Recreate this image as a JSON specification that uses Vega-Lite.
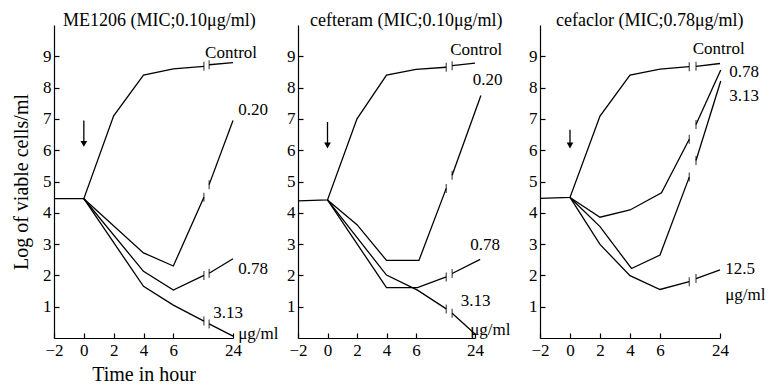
{
  "$schema": "https://vega.github.io/schema/vega-lite/v6.json",
  "padding": {"left": 11, "top": 12, "right": 5, "bottom": 5},
  "background": "white",
  "bounds": "flush",
  "spacing": 65,
  "datasets": {
    "lines": [
      {"drug": "ME1206", "series": "Control", "seg": 1, "t": -2, "v": 4.45},
      {"drug": "ME1206", "series": "Control", "seg": 1, "t": 0, "v": 4.45},
      {"drug": "ME1206", "series": "Control", "seg": 1, "t": 2, "v": 7.1},
      {"drug": "ME1206", "series": "Control", "seg": 1, "t": 4, "v": 8.4},
      {"drug": "ME1206", "series": "Control", "seg": 1, "t": 6, "v": 8.6},
      {"drug": "ME1206", "series": "Control", "seg": 1, "t": 8.05, "v": 8.68},
      {"drug": "ME1206", "series": "Control", "seg": 2, "t": 8.4, "v": 8.73},
      {"drug": "ME1206", "series": "Control", "seg": 2, "t": 10, "v": 8.8},
      {"drug": "ME1206", "series": "0.20", "seg": 1, "t": 0, "v": 4.45},
      {"drug": "ME1206", "series": "0.20", "seg": 1, "t": 4, "v": 2.72},
      {"drug": "ME1206", "series": "0.20", "seg": 1, "t": 6, "v": 2.3},
      {"drug": "ME1206", "series": "0.20", "seg": 1, "t": 8.05, "v": 4.5},
      {"drug": "ME1206", "series": "0.20", "seg": 2, "t": 8.4, "v": 4.9},
      {"drug": "ME1206", "series": "0.20", "seg": 2, "t": 10, "v": 6.95},
      {"drug": "ME1206", "series": "0.78", "seg": 1, "t": 0, "v": 4.45},
      {"drug": "ME1206", "series": "0.78", "seg": 1, "t": 4, "v": 2.13},
      {"drug": "ME1206", "series": "0.78", "seg": 1, "t": 6, "v": 1.53},
      {"drug": "ME1206", "series": "0.78", "seg": 1, "t": 8.05, "v": 2.0},
      {"drug": "ME1206", "series": "0.78", "seg": 2, "t": 8.4, "v": 2.07},
      {"drug": "ME1206", "series": "0.78", "seg": 2, "t": 10, "v": 2.53},
      {"drug": "ME1206", "series": "3.13", "seg": 1, "t": 0, "v": 4.45},
      {"drug": "ME1206", "series": "3.13", "seg": 1, "t": 4, "v": 1.65},
      {"drug": "ME1206", "series": "3.13", "seg": 1, "t": 6, "v": 1.05},
      {"drug": "ME1206", "series": "3.13", "seg": 1, "t": 8.05, "v": 0.54},
      {"drug": "ME1206", "series": "3.13", "seg": 2, "t": 8.4, "v": 0.45},
      {"drug": "ME1206", "series": "3.13", "seg": 2, "t": 10, "v": 0.06},

      {"drug": "cefteram", "series": "Control", "seg": 1, "t": -2, "v": 4.38},
      {"drug": "cefteram", "series": "Control", "seg": 1, "t": 0, "v": 4.41},
      {"drug": "cefteram", "series": "Control", "seg": 1, "t": 2, "v": 7.0},
      {"drug": "cefteram", "series": "Control", "seg": 1, "t": 4, "v": 8.4},
      {"drug": "cefteram", "series": "Control", "seg": 1, "t": 6, "v": 8.58},
      {"drug": "cefteram", "series": "Control", "seg": 1, "t": 8.05, "v": 8.65},
      {"drug": "cefteram", "series": "Control", "seg": 2, "t": 8.45, "v": 8.7},
      {"drug": "cefteram", "series": "Control", "seg": 2, "t": 10, "v": 8.78},
      {"drug": "cefteram", "series": "0.20", "seg": 1, "t": 0, "v": 4.41},
      {"drug": "cefteram", "series": "0.20", "seg": 1, "t": 2, "v": 3.62},
      {"drug": "cefteram", "series": "0.20", "seg": 1, "t": 4, "v": 2.48},
      {"drug": "cefteram", "series": "0.20", "seg": 1, "t": 6.2, "v": 2.48},
      {"drug": "cefteram", "series": "0.20", "seg": 1, "t": 8.05, "v": 4.78},
      {"drug": "cefteram", "series": "0.20", "seg": 2, "t": 8.45, "v": 5.2},
      {"drug": "cefteram", "series": "0.20", "seg": 2, "t": 10.4, "v": 7.75},
      {"drug": "cefteram", "series": "0.78", "seg": 1, "t": 0, "v": 4.41},
      {"drug": "cefteram", "series": "0.78", "seg": 1, "t": 4, "v": 1.61},
      {"drug": "cefteram", "series": "0.78", "seg": 1, "t": 6.1, "v": 1.61},
      {"drug": "cefteram", "series": "0.78", "seg": 1, "t": 8.05, "v": 1.95},
      {"drug": "cefteram", "series": "0.78", "seg": 2, "t": 8.45, "v": 2.06},
      {"drug": "cefteram", "series": "0.78", "seg": 2, "t": 10.35, "v": 2.51},
      {"drug": "cefteram", "series": "3.13", "seg": 1, "t": 0, "v": 4.41},
      {"drug": "cefteram", "series": "3.13", "seg": 1, "t": 4, "v": 2.01},
      {"drug": "cefteram", "series": "3.13", "seg": 1, "t": 6.1, "v": 1.53},
      {"drug": "cefteram", "series": "3.13", "seg": 1, "t": 8.05, "v": 0.93},
      {"drug": "cefteram", "series": "3.13", "seg": 2, "t": 8.45, "v": 0.79},
      {"drug": "cefteram", "series": "3.13", "seg": 2, "t": 10.02, "v": 0.12},

      {"drug": "cefaclor", "series": "Control", "seg": 1, "t": -2, "v": 4.46},
      {"drug": "cefaclor", "series": "Control", "seg": 1, "t": 0, "v": 4.49},
      {"drug": "cefaclor", "series": "Control", "seg": 1, "t": 2, "v": 7.09},
      {"drug": "cefaclor", "series": "Control", "seg": 1, "t": 4, "v": 8.4},
      {"drug": "cefaclor", "series": "Control", "seg": 1, "t": 6, "v": 8.59},
      {"drug": "cefaclor", "series": "Control", "seg": 1, "t": 7.95, "v": 8.67},
      {"drug": "cefaclor", "series": "Control", "seg": 2, "t": 8.4, "v": 8.68},
      {"drug": "cefaclor", "series": "Control", "seg": 2, "t": 10, "v": 8.77},
      {"drug": "cefaclor", "series": "0.78", "seg": 1, "t": 0, "v": 4.49},
      {"drug": "cefaclor", "series": "0.78", "seg": 1, "t": 2, "v": 3.86},
      {"drug": "cefaclor", "series": "0.78", "seg": 1, "t": 4, "v": 4.09},
      {"drug": "cefaclor", "series": "0.78", "seg": 1, "t": 6.1, "v": 4.64},
      {"drug": "cefaclor", "series": "0.78", "seg": 1, "t": 7.95, "v": 6.35},
      {"drug": "cefaclor", "series": "0.78", "seg": 2, "t": 8.4, "v": 6.82},
      {"drug": "cefaclor", "series": "0.78", "seg": 2, "t": 10.05, "v": 8.56},
      {"drug": "cefaclor", "series": "3.13", "seg": 1, "t": 0, "v": 4.49},
      {"drug": "cefaclor", "series": "3.13", "seg": 1, "t": 2, "v": 3.56},
      {"drug": "cefaclor", "series": "3.13", "seg": 1, "t": 4.1, "v": 2.22},
      {"drug": "cefaclor", "series": "3.13", "seg": 1, "t": 6, "v": 2.65},
      {"drug": "cefaclor", "series": "3.13", "seg": 1, "t": 7.95, "v": 5.14},
      {"drug": "cefaclor", "series": "3.13", "seg": 2, "t": 8.4, "v": 5.67},
      {"drug": "cefaclor", "series": "3.13", "seg": 2, "t": 10.05, "v": 8.21},
      {"drug": "cefaclor", "series": "12.5", "seg": 1, "t": 0, "v": 4.49},
      {"drug": "cefaclor", "series": "12.5", "seg": 1, "t": 2, "v": 2.99},
      {"drug": "cefaclor", "series": "12.5", "seg": 1, "t": 4, "v": 1.99},
      {"drug": "cefaclor", "series": "12.5", "seg": 1, "t": 6, "v": 1.55},
      {"drug": "cefaclor", "series": "12.5", "seg": 1, "t": 7.95, "v": 1.8},
      {"drug": "cefaclor", "series": "12.5", "seg": 2, "t": 8.4, "v": 1.9},
      {"drug": "cefaclor", "series": "12.5", "seg": 2, "t": 10, "v": 2.18}
    ],
    "arrows": [
      {"drug": "ME1206", "t": 0, "top": 6.95, "tip": 6.2},
      {"drug": "cefteram", "t": 0, "top": 6.9, "tip": 6.15},
      {"drug": "cefaclor", "t": 0, "top": 6.65, "tip": 6.15}
    ],
    "labels": [
      {"drug": "ME1206", "text": "Control", "t": 8.13, "v": 9.09},
      {"drug": "ME1206", "text": "0.20", "t": 10.35, "v": 7.3},
      {"drug": "ME1206", "text": "0.78", "t": 10.35, "v": 2.22},
      {"drug": "ME1206", "text": "3.13", "t": 8.67, "v": 0.8},
      {"drug": "ME1206", "text": "μg/ml", "t": 10.35, "v": 0.14},
      {"drug": "cefteram", "text": "Control", "t": 8.32, "v": 9.2},
      {"drug": "cefteram", "text": "0.20", "t": 9.84, "v": 8.23},
      {"drug": "cefteram", "text": "0.78", "t": 9.68, "v": 2.98},
      {"drug": "cefteram", "text": "3.13", "t": 9.04, "v": 1.19},
      {"drug": "cefteram", "text": "μg/ml", "t": 9.67, "v": 0.26},
      {"drug": "cefaclor", "text": "Control", "t": 8.18, "v": 9.22},
      {"drug": "cefaclor", "text": "0.78", "t": 10.62, "v": 8.49},
      {"drug": "cefaclor", "text": "3.13", "t": 10.62, "v": 7.72},
      {"drug": "cefaclor", "text": "12.5", "t": 10.35, "v": 2.2},
      {"drug": "cefaclor", "text": "μg/ml", "t": 10.35, "v": 1.38}
    ]
  },
  "hconcat": [
    {
      "width": 179, "height": 313,
      "title": {"text": "ME1206 (MIC;0.10μg/ml)", "anchor": "start", "frame": "group", "dx": 9, "offset": -5},
      "layer": [
        {"data": {"name": "lines"}, "transform": [{"filter": "datum.drug == 'ME1206'"}],
         "mark": {"type": "line", "color": "black", "strokeWidth": 1.3},
         "encoding": {
           "x": {"field": "t", "type": "quantitative", "scale": {"domain": [-2, 10], "nice": false, "zero": false},
                 "axis": {"values": [-2, 0, 2, 4, 6, 10], "format": "d", "tickCount": 20, "labelOverlap": false, "labelExpr": "datum.value == 10 ? '24' : datum.label", "title": "Time in hour", "titlePadding": 6}},
           "y": {"field": "v", "type": "quantitative", "scale": {"domain": [0, 10], "nice": false},
                 "axis": {"values": [1, 2, 3, 4, 5, 6, 7, 8, 9], "format": "d", "tickCount": 20, "labelOverlap": false, "title": "Log of viable cells/ml", "titlePadding": 11, "labelPadding": 8}},
           "detail": [{"field": "series"}, {"field": "seg"}],
           "order": {"field": "t", "type": "quantitative"}
         }},
        {"data": {"name": "lines"}, "transform": [{"filter": "datum.drug == 'ME1206' && datum.t > 7 && datum.t < 9"}],
         "mark": {"type": "tick", "orient": "vertical", "color": "black", "size": 9, "thickness": 1.2},
         "encoding": {"x": {"field": "t", "type": "quantitative"}, "y": {"field": "v", "type": "quantitative"}}},
        {"data": {"name": "arrows"}, "transform": [{"filter": "datum.drug == 'ME1206'"}],
         "mark": {"type": "rule", "color": "black", "strokeWidth": 1.3},
         "encoding": {"x": {"field": "t", "type": "quantitative"}, "y": {"field": "top", "type": "quantitative"}, "y2": {"field": "tip"}}},
        {"data": {"name": "arrows"}, "transform": [{"filter": "datum.drug == 'ME1206'"}],
         "mark": {"type": "point", "shape": "triangle-down", "filled": true, "color": "black", "size": 45, "opacity": 1},
         "encoding": {"x": {"field": "t", "type": "quantitative"}, "y": {"field": "tip", "type": "quantitative"}}},
        {"data": {"name": "labels"}, "transform": [{"filter": "datum.drug == 'ME1206'"}],
         "mark": {"type": "text", "align": "left", "baseline": "middle", "font": "Liberation Serif", "fontSize": 17, "color": "black"},
         "encoding": {"x": {"field": "t", "type": "quantitative"}, "y": {"field": "v", "type": "quantitative"}, "text": {"field": "text"}}}
      ]
    },
    {
      "width": 177, "height": 313,
      "title": {"text": "cefteram (MIC;0.10μg/ml)", "anchor": "start", "frame": "group", "dx": 12, "offset": -5},
      "layer": [
        {"data": {"name": "lines"}, "transform": [{"filter": "datum.drug == 'cefteram'"}],
         "mark": {"type": "line", "color": "black", "strokeWidth": 1.3},
         "encoding": {
           "x": {"field": "t", "type": "quantitative", "scale": {"domain": [-2, 10], "nice": false, "zero": false},
                 "axis": {"values": [-2, 0, 2, 4, 6, 10], "format": "d", "tickCount": 20, "labelOverlap": false, "labelExpr": "datum.value == 10 ? '24' : datum.label", "title": null}},
           "y": {"field": "v", "type": "quantitative", "scale": {"domain": [0, 10], "nice": false},
                 "axis": {"values": [1, 2, 3, 4, 5, 6, 7, 8, 9], "format": "d", "tickCount": 20, "labelOverlap": false, "title": null, "labelPadding": 8}},
           "detail": [{"field": "series"}, {"field": "seg"}],
           "order": {"field": "t", "type": "quantitative"}
         }},
        {"data": {"name": "lines"}, "transform": [{"filter": "datum.drug == 'cefteram' && datum.t > 7 && datum.t < 9"}],
         "mark": {"type": "tick", "orient": "vertical", "color": "black", "size": 9, "thickness": 1.2},
         "encoding": {"x": {"field": "t", "type": "quantitative"}, "y": {"field": "v", "type": "quantitative"}}},
        {"data": {"name": "arrows"}, "transform": [{"filter": "datum.drug == 'cefteram'"}],
         "mark": {"type": "rule", "color": "black", "strokeWidth": 1.3},
         "encoding": {"x": {"field": "t", "type": "quantitative"}, "y": {"field": "top", "type": "quantitative"}, "y2": {"field": "tip"}}},
        {"data": {"name": "arrows"}, "transform": [{"filter": "datum.drug == 'cefteram'"}],
         "mark": {"type": "point", "shape": "triangle-down", "filled": true, "color": "black", "size": 45, "opacity": 1},
         "encoding": {"x": {"field": "t", "type": "quantitative"}, "y": {"field": "tip", "type": "quantitative"}}},
        {"data": {"name": "labels"}, "transform": [{"filter": "datum.drug == 'cefteram'"}],
         "mark": {"type": "text", "align": "left", "baseline": "middle", "font": "Liberation Serif", "fontSize": 17, "color": "black"},
         "encoding": {"x": {"field": "t", "type": "quantitative"}, "y": {"field": "v", "type": "quantitative"}, "text": {"field": "text"}}}
      ]
    },
    {
      "width": 180, "height": 313,
      "title": {"text": "cefaclor (MIC;0.78μg/ml)", "anchor": "start", "frame": "group", "dx": 16, "offset": -5},
      "layer": [
        {"data": {"name": "lines"}, "transform": [{"filter": "datum.drug == 'cefaclor'"}],
         "mark": {"type": "line", "color": "black", "strokeWidth": 1.3},
         "encoding": {
           "x": {"field": "t", "type": "quantitative", "scale": {"domain": [-2, 10], "nice": false, "zero": false},
                 "axis": {"values": [-2, 0, 2, 4, 6, 10], "format": "d", "tickCount": 20, "labelOverlap": false, "labelExpr": "datum.value == 10 ? '24' : datum.label", "title": null}},
           "y": {"field": "v", "type": "quantitative", "scale": {"domain": [0, 10], "nice": false},
                 "axis": {"values": [1, 2, 3, 4, 5, 6, 7, 8, 9], "format": "d", "tickCount": 20, "labelOverlap": false, "title": null, "labelPadding": 8}},
           "detail": [{"field": "series"}, {"field": "seg"}],
           "order": {"field": "t", "type": "quantitative"}
         }},
        {"data": {"name": "lines"}, "transform": [{"filter": "datum.drug == 'cefaclor' && datum.t > 7 && datum.t < 9"}],
         "mark": {"type": "tick", "orient": "vertical", "color": "black", "size": 9, "thickness": 1.2},
         "encoding": {"x": {"field": "t", "type": "quantitative"}, "y": {"field": "v", "type": "quantitative"}}},
        {"data": {"name": "arrows"}, "transform": [{"filter": "datum.drug == 'cefaclor'"}],
         "mark": {"type": "rule", "color": "black", "strokeWidth": 1.3},
         "encoding": {"x": {"field": "t", "type": "quantitative"}, "y": {"field": "top", "type": "quantitative"}, "y2": {"field": "tip"}}},
        {"data": {"name": "arrows"}, "transform": [{"filter": "datum.drug == 'cefaclor'"}],
         "mark": {"type": "point", "shape": "triangle-down", "filled": true, "color": "black", "size": 45, "opacity": 1},
         "encoding": {"x": {"field": "t", "type": "quantitative"}, "y": {"field": "tip", "type": "quantitative"}}},
        {"data": {"name": "labels"}, "transform": [{"filter": "datum.drug == 'cefaclor'"}],
         "mark": {"type": "text", "align": "left", "baseline": "middle", "font": "Liberation Serif", "fontSize": 17, "color": "black"},
         "encoding": {"x": {"field": "t", "type": "quantitative"}, "y": {"field": "v", "type": "quantitative"}, "text": {"field": "text"}}}
      ]
    }
  ],
  "config": {
    "view": {"stroke": null},
    "font": "Liberation Serif",
    "title": {"font": "Liberation Serif", "fontSize": 18, "fontWeight": "normal", "color": "black"},
    "axis": {
      "grid": false,
      "tickCount": 20,
      "format": "d",
      "labelOverlap": false,
      "labelBound": false,
      "labelFlush": false,
      "domainColor": "black", "domainWidth": 1.2,
      "tickColor": "black", "tickWidth": 1.2, "tickSize": -5,
      "labelPadding": 9,
      "labelFont": "Liberation Serif", "labelFontSize": 17, "labelColor": "black",
      "titleFont": "Liberation Serif", "titleFontSize": 20, "titleFontWeight": "normal", "titleColor": "black"
    }
  }
}
